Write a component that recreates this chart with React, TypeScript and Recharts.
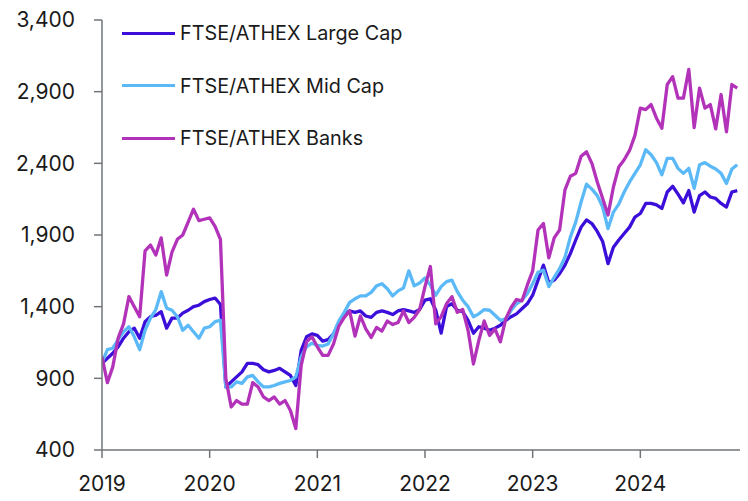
import { LineChart, Line, XAxis, YAxis } from "recharts";

// fractional years, roughly every 18 days
const DATES = [
  2019.0, 2019.05, 2019.1, 2019.15, 2019.2, 2019.25, 2019.3, 2019.35, 2019.4, 2019.45,
  2019.5, 2019.55, 2019.6, 2019.65, 2019.7, 2019.75, 2019.8, 2019.85, 2019.9, 2019.95,
  2020.0, 2020.05, 2020.1, 2020.15, 2020.2, 2020.25, 2020.3, 2020.35, 2020.4, 2020.45,
  2020.5, 2020.55, 2020.6, 2020.65, 2020.7, 2020.75, 2020.8, 2020.85, 2020.9, 2020.95,
  2021.0, 2021.05, 2021.1, 2021.15, 2021.2, 2021.25, 2021.3, 2021.35, 2021.4, 2021.45,
  2021.5, 2021.55, 2021.6, 2021.65, 2021.7, 2021.75, 2021.8, 2021.85, 2021.9, 2021.95,
  2022.0, 2022.05, 2022.1, 2022.15, 2022.2, 2022.25, 2022.3, 2022.35, 2022.4, 2022.45,
  2022.5, 2022.55, 2022.6, 2022.65, 2022.7, 2022.75, 2022.8, 2022.85, 2022.9, 2022.95,
  2023.0, 2023.05, 2023.1, 2023.15, 2023.2, 2023.25, 2023.3, 2023.35, 2023.4, 2023.45,
  2023.5, 2023.55, 2023.6, 2023.65, 2023.7, 2023.75, 2023.8, 2023.85, 2023.9, 2023.95,
  2024.0, 2024.05, 2024.1, 2024.15, 2024.2, 2024.25, 2024.3, 2024.35, 2024.4, 2024.45,
  2024.5, 2024.55, 2024.6, 2024.65, 2024.7, 2024.75, 2024.8, 2024.85, 2024.9,
];

const LARGE_CAP = [
  1005, 1040, 1075, 1120, 1180, 1225, 1250, 1180, 1295, 1330,
  1340, 1365, 1250, 1320, 1320, 1355, 1375, 1400, 1410, 1435,
  1450, 1460, 1415, 840, 875, 910, 945, 1005, 1005, 995,
  960, 945, 955, 970, 945, 920, 850, 1095, 1190, 1210,
  1200, 1160, 1170, 1210, 1290, 1345, 1370, 1360, 1370, 1335,
  1325, 1360, 1370, 1360, 1345, 1370, 1380, 1370, 1360, 1380,
  1445, 1455, 1375, 1215, 1400, 1420, 1375, 1365, 1305, 1215,
  1260, 1250, 1235, 1250, 1270, 1305, 1330, 1350, 1385, 1420,
  1480, 1585, 1690, 1565, 1585, 1630, 1690, 1770, 1865, 1955,
  2005, 1980, 1925, 1855, 1700, 1815, 1865, 1910, 1955, 2025,
  2050, 2120, 2120, 2110, 2085, 2200, 2240, 2185, 2125, 2210,
  2060, 2175, 2200, 2165, 2155, 2120, 2095, 2200, 2210,
];

const MID_CAP = [
  1010, 1100, 1110, 1170, 1225, 1260, 1190, 1100, 1235, 1320,
  1380, 1505, 1390, 1375, 1330, 1235, 1270, 1225, 1180, 1250,
  1260, 1295, 1305, 840, 840, 875, 865, 910, 920, 875,
  840, 840, 850, 865, 875, 885, 910, 1050, 1120, 1145,
  1130, 1125, 1140, 1210, 1300, 1360, 1430, 1455, 1475, 1475,
  1500, 1545, 1560, 1525, 1475, 1510, 1530, 1650, 1545, 1565,
  1600, 1550, 1480, 1540, 1575, 1585, 1505, 1445, 1400, 1330,
  1350, 1380, 1375, 1340, 1305, 1315, 1375, 1420, 1445, 1490,
  1560, 1640, 1655, 1540, 1605, 1665, 1745, 1885, 1990, 2130,
  2255, 2220, 2175, 2095, 1945, 2060, 2115, 2200, 2270, 2330,
  2390, 2495, 2460, 2405, 2320, 2435, 2435, 2365, 2330, 2365,
  2225, 2390, 2405, 2380, 2360, 2330, 2260, 2360, 2390,
];

const BANKS = [
  1050, 870, 980, 1180, 1280, 1470, 1400, 1330, 1790, 1830,
  1760, 1880, 1620, 1780, 1870, 1900, 1990, 2080, 2000, 2010,
  2020, 1960, 1870, 900, 700, 745, 720, 720, 870, 840,
  770, 745, 770, 720, 745, 675, 550, 990, 1155, 1190,
  1120, 1060, 1060, 1140, 1265, 1325, 1370, 1195, 1335, 1245,
  1185, 1255, 1230, 1300, 1275, 1290, 1370, 1290, 1325, 1380,
  1540, 1680, 1280, 1330, 1420, 1470, 1360, 1380, 1235, 1000,
  1165, 1300, 1200, 1245, 1155, 1315, 1395, 1450, 1440, 1550,
  1650, 1935, 1980, 1740, 1880, 1935, 2215, 2310, 2330, 2450,
  2480, 2400, 2270, 2155, 2040, 2235, 2375, 2425, 2490, 2595,
  2785, 2775, 2810, 2715, 2645, 2950, 3005, 2855, 2855, 3055,
  2650, 2925, 2785, 2810, 2640, 2880, 2620, 2950, 2925,
];

const X_TICKS = [2019, 2020, 2021, 2022, 2023, 2024];
const Y_TICKS = [400, 900, 1400, 1900, 2400, 2900, 3400];

const SERIES = [
  { key: "large", name: "FTSE/ATHEX Large Cap", color: "#3b0fd9" },
  { key: "mid", name: "FTSE/ATHEX Mid Cap", color: "#5cb9f7" },
  { key: "banks", name: "FTSE/ATHEX Banks", color: "#b233b9" },
];

const AXIS = "#6f7577";
const FONT = "Inter, 'Noto Sans', sans-serif";

const data = DATES.map((d, i) => ({
  date: d,
  large: LARGE_CAP[i],
  mid: MID_CAP[i],
  banks: BANKS[i],
}));

export default function App() {
  return (
    <div
      style={{
        position: "relative",
        width: 748,
        height: 501,
        marginTop: -8,
        marginLeft: -8,
        background: "#fff",
        fontFamily: FONT,
      }}
    >
      <LineChart
        width={748}
        height={501}
        data={data}
        margin={{ top: 20, right: 0, bottom: 0, left: 0 }}
      >
        <XAxis
          dataKey="date"
          type="number"
          domain={[2019, 2025]}
          ticks={X_TICKS}
          height={51}
          stroke={AXIS}
          strokeWidth={1.5}
          tickSize={8}
          tickMargin={18}
          tick={{ fill: "#1a1a1a", fontSize: 21, fontFamily: FONT }}
          allowDataOverflow
        />
        <YAxis
          type="number"
          domain={[400, 3400]}
          ticks={Y_TICKS}
          width={102}
          stroke={AXIS}
          strokeWidth={1.5}
          tickSize={8}
          tickMargin={19}
          tick={{ fill: "#1a1a1a", fontSize: 21, fontFamily: FONT }}
          tickFormatter={(v) => v.toLocaleString("en-US")}
        />
        {SERIES.map((s) => (
          <Line
            key={s.key}
            type="linear"
            dataKey={s.key}
            name={s.name}
            stroke={s.color}
            strokeWidth={3.3}
            strokeLinejoin="round"
            dot={false}
            isAnimationActive={false}
          />
        ))}
      </LineChart>
      <div style={{ position: "absolute", left: 122, top: 7 }}>
        {SERIES.map((s) => (
          <div
            key={s.key}
            style={{ display: "flex", alignItems: "center", height: 52.5 }}
          >
            <span
              style={{ width: 53, height: 3, background: s.color, marginRight: 5 }}
            />
            <span style={{ fontSize: 19.8, color: "#1a1a1a" }}>{s.name}</span>
          </div>
        ))}
      </div>
    </div>
  );
}
